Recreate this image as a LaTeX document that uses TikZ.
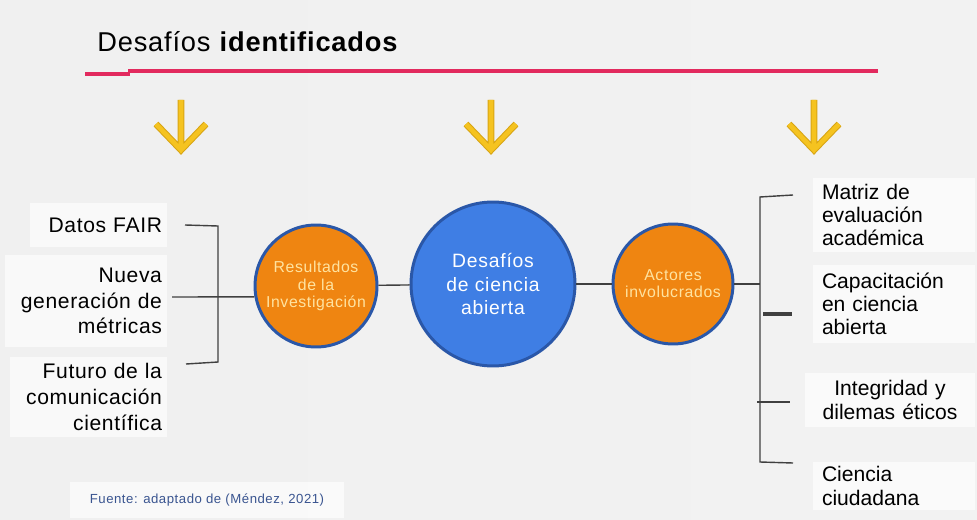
\documentclass[tikz,border=0pt]{standalone}
\usepackage{fontspec}
\setmainfont{Liberation Sans}
\usepackage{xcolor}
\usepackage{tikz}
\usetikzlibrary{calc}

\definecolor{naranja}{HTML}{EF8511}
\definecolor{azul}{HTML}{3F7EE4}
\definecolor{azulborde}{HTML}{2A57A8}
\definecolor{rojo}{HTML}{E22A5E}
\definecolor{amarillo}{HTML}{F5C320}
\definecolor{amarilloborde}{HTML}{D8A514}
\definecolor{fuentecol}{HTML}{3A5590}
\definecolor{crema}{HTML}{FFE3A0}

\newcommand{\fizq}{\fontsize{12}{14.7}\selectfont\addfontfeature{LetterSpace=3}}
\newcommand{\fder}{\fontsize{12}{13.2}\selectfont}
\newcommand{\fchico}{\fontsize{9}{9.8}\selectfont\addfontfeature{LetterSpace=4}}

\tikzset{
    circulo/.style={circle, draw=azulborde, line width=1.7pt, align=center, inner sep=0pt},
    caja/.style={fill=white, fill opacity=0.65, text opacity=1, inner ysep=0pt},
    corchete/.style={draw=black!75, line width=0.8pt},
}

\begin{document}
\begin{tikzpicture}[x=0.02cm, y=-0.02cm]
            \useasboundingbox (0,0) rectangle (977,520);
            \shade[left color=black!6, middle color=white, right color=black!5] (0,0) rectangle (977,520);

            % Title
            \node[anchor=base west, inner sep=0pt, font={\fontsize{15.5}{18}\selectfont\addfontfeature{LetterSpace=3}}] (Title) at (97,52)
                {Desafíos \textbf{identificados}};
            \draw[rojo, line width=2.8pt] (85,74) -- (130,74);
            \draw[rojo, line width=2.8pt] (128,71) -- (878,71);

            % Yellow arrows
            \foreach \i/\x in {1/181, 2/491, 3/814}
            {
                \coordinate (Flecha-\i) at (\x,100);
                \coordinate (Punta-\i) at (\x,150);
                \draw[amarilloborde, line width=3.8pt] (Flecha-\i) -- (Punta-\i)
                    ($(Punta-\i)+(-25,-26)$) -- (Punta-\i) -- ($(Punta-\i)+(25,-26)$);
                \draw[amarillo, line width=2.6pt] (Flecha-\i) -- (Punta-\i)
                    ($(Punta-\i)+(-25,-26)$) -- (Punta-\i) -- ($(Punta-\i)+(25,-26)$);
            }

            % Circles
            \node[circulo, fill=naranja, minimum size=2.44cm, text=crema, font=\fchico] (Res) at (316,286)
                {Resultados\\de la\\Investigación};
            \node[circulo, fill=azul, minimum size=3.28cm, text=white,
                font={\fontsize{11}{13.6}\selectfont\addfontfeature{LetterSpace=4}}] (Desafio) at (493,284)
                {Desafíos\\de ciencia\\abierta};
            \node[circulo, fill=naranja, minimum size=2.4cm, text=crema, font=\fchico] (Actores) at (673,284)
                {Actores\\involucrados};
            \draw[corchete] (Res) -- (Desafio);
            \draw[corchete] (Desafio) -- (Actores);

            % Left boxes
            \node[caja, font=\fizq, align=right, text width=2.54cm, inner xsep=0.1cm, minimum height=0.88cm] (Left-1) at (98.5,225)
                {Datos FAIR};
            \node[caja, font=\fizq, align=right, text width=3.04cm, inner xsep=0.1cm, minimum height=1.84cm] (Left-2) at (86,301)
                {Nueva\\generación de\\métricas};
            \node[caja, font=\fizq, align=right, text width=2.94cm, inner xsep=0.1cm, minimum height=1.6cm] (Left-3) at (88.5,397)
                {Futuro de la\\comunicación\\científica};

            % Right boxes
            \node[caja, font=\fder, align=left, text width=2.88cm, inner xsep=0.18cm, minimum height=1.48cm] (Right-1) at (894,215)
                {Matriz de\\evaluación\\académica};
            \node[caja, font=\fder, align=left, text width=2.88cm, inner xsep=0.18cm, minimum height=1.56cm] (Right-2) at (894,304)
                {Capacitación\\en ciencia\\abierta};
            \node[caja, font=\fder, align=center, text width=3cm, inner xsep=0.2cm, minimum height=1.08cm] (Right-3) at (890,400)
                {Integridad y\\dilemas éticos};
            \node[caja, font=\fder, align=left, text width=2.88cm, inner xsep=0.18cm, minimum height=0.96cm] (Right-4) at (894,486)
                {Ciencia\\ciudadana};

            % Left bracket
            \coordinate (lTop) at (185,225);
            \coordinate (lTopC) at (218,226);
            \coordinate (lBotC) at (218,362);
            \coordinate (lBot) at (186,364);
            \coordinate (lMid) at (172,297);
            \draw[corchete] (lTop) -- (lTopC) -- (lBotC) -- (lBot);
            \draw[corchete] (lMid) -- (Res.190);

            % Right bracket
            \coordinate (rTop) at (793,195);
            \coordinate (rTopC) at (760,197);
            \coordinate (rBotC) at (760,462);
            \coordinate (rBot) at (793,463);
            \coordinate (rMid) at (760,284);
            \coordinate (rTick-a) at (763,314);
            \coordinate (rTick-b) at (792,314);
            \coordinate (rTick-c) at (757,402);
            \coordinate (rTick-d) at (790,402);
            \draw[corchete] (rTop) -- (rTopC) -- (rBotC) -- (rBot);
            \draw[corchete] (Actores) -- (rMid);
            \draw[corchete, line width=2pt] (rTick-a) -- (rTick-b);
            \draw[corchete] (rTick-c) -- (rTick-d);

            % Source
            \node[caja, minimum width=5.5cm, minimum height=0.72cm, text=fuentecol,
                font={\fontsize{7.5}{8}\selectfont\addfontfeature{LetterSpace=4}}] (Fuente) at (207,500)
                {Fuente: adaptado de (Méndez, 2021)};

        \end{tikzpicture}
\end{document}
